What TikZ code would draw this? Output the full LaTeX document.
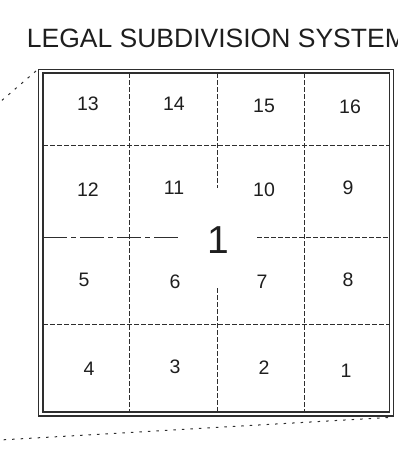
\documentclass[tikz,border=0pt]{standalone}
\usepackage{fontspec}
\setmainfont{Liberation Sans}
\usetikzlibrary{positioning}
\definecolor{lsdink}{HTML}{1E1E1E}
\definecolor{lsdline}{HTML}{2E2E2E}

\begin{document}
\begin{tikzpicture}[x=1pt, y=-1pt,
    frame/.style={draw=lsdline, line width=1.3pt},
    gridline/.style={draw=lsdline, line width=0.9pt, dash pattern=on 4.5pt off 2.5pt},
    baseline/.style={draw=lsdline, line width=1pt, dash pattern=on 24pt off 4pt on 5pt off 4pt},
    leader/.style={draw=lsdline, line width=1pt, dash pattern=on 2.5pt off 6pt},
    lsd/.style={font=\fontsize{19.5}{19.5}\selectfont, text=lsdink, inner sep=0pt},
    section/.style={font=\fontsize{39}{39}\selectfont, text=lsdink, inner sep=0pt},
    heading/.style={font=\fontsize{26.5}{26.5}\selectfont, text=lsdink, anchor=base west, inner sep=0pt}
  ]
  \useasboundingbox (0,0) rectangle (397,450);

  \node[heading] (title) at (26.7,47.3) {LEGAL SUBDIVISION SYSTEM};

  % double frame
  \coordinate (onw) at (38.5,69.5);
  \coordinate (ose) at (393.5,416);
  \coordinate (inw) at (43,73);
  \coordinate (ise) at (389.5,412);
  \draw[frame] (onw) rectangle (ose);
  \draw[frame] (inw) rectangle (ise);

  % quarter lines
  \draw[gridline] (129,73) -- (129,412);
  \draw[gridline] (304,73) -- (304,412);
  \draw[gridline] (217,73) -- (217,188);
  \draw[gridline] (217,288) -- (217,412);
  \draw[gridline] (43,145) -- (389.5,145);
  \draw[gridline] (43,324.5) -- (389.5,324.5);
  \draw[baseline] (43,237.5) -- (178,237.5);
  \draw[gridline] (257,237.5) -- (389.5,237.5);

  \node[section] (sec) at (218,240) {1};

  % legal subdivisions
  \node[lsd] (l13) at (88,104) {13};
  \node[lsd] (l14) at (174,104) {14};
  \node[lsd] (l15) at (264,106) {15};
  \node[lsd] (l16) at (350,107) {16};
  \node[lsd] (l12) at (88,190) {12};
  \node[lsd] (l11) at (174,188) {11};
  \node[lsd] (l10) at (264,190) {10};
  \node[lsd] (l9) at (348,188) {9};
  \node[lsd] (l5) at (84,280) {5};
  \node[lsd] (l6) at (175,282) {6};
  \node[lsd] (l7) at (262,282) {7};
  \node[lsd] (l8) at (348,280) {8};
  \node[lsd] (l4) at (89,369) {4};
  \node[lsd] (l3) at (175,367) {3};
  \node[lsd] (l2) at (264,368) {2};
  \node[lsd] (l1) at (346,371) {1};

  % leaders to the township
  \coordinate (topend) at (0,102);
  \coordinate (botend) at (0,440);
  \coordinate (botstart) at (388,417.5);
  \draw[leader] (36,71) -- (topend);
  \draw[leader] (botstart) -- (botend);
\end{tikzpicture}
\end{document}
